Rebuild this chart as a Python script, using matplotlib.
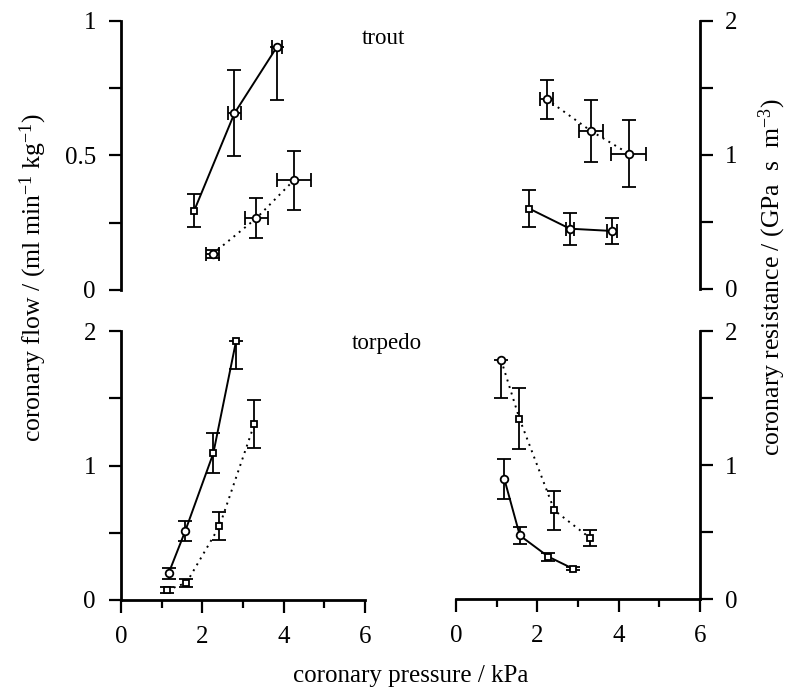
import matplotlib
matplotlib.use('Agg')
import matplotlib.pyplot as plt
from matplotlib.ticker import FixedLocator, FormatStrFormatter

plt.rcParams['font.family'] = 'Liberation Serif'
plt.rcParams['mathtext.fontset'] = 'custom'
plt.rcParams['mathtext.rm'] = 'Liberation Serif'
plt.rcParams['mathtext.it'] = 'Liberation Serif:italic'

# ---- trout, coronary flow (ml/min/kg) ----
tf_solid_x = [1.80, 2.79, 3.84]
tf_solid_y = [0.295, 0.657, 0.905]
tf_solid_ylo = [0.062, 0.16, 0.20]
tf_solid_yhi = [0.062, 0.16, 0.0]
tf_solid_xerr = [0.0, 0.16, 0.12]
tf_solid_mk = ['s', 'o', 'o']

tf_dot_x = [2.25, 3.33, 4.25]
tf_dot_y = [0.134, 0.267, 0.408]
tf_dot_ylo = [0.015, 0.075, 0.11]
tf_dot_yhi = [0.015, 0.075, 0.11]
tf_dot_xerr = [0.16, 0.29, 0.42]
tf_dot_mk = ['o', 'o', 'o']

# ---- trout, coronary resistance (GPa s m-3) ----
tr_solid_x = [1.80, 2.80, 3.84]
tr_solid_y = [0.60, 0.45, 0.433]
tr_solid_ylo = [0.136, 0.12, 0.10]
tr_solid_yhi = [0.136, 0.12, 0.10]
tr_solid_xerr = [0.0, 0.10, 0.12]
tr_solid_mk = ['s', 'o', 'o']

tr_dot_x = [2.23, 3.32, 4.25]
tr_dot_y = [1.416, 1.179, 1.01]
tr_dot_ylo = [0.145, 0.23, 0.25]
tr_dot_yhi = [0.145, 0.23, 0.25]
tr_dot_xerr = [0.155, 0.30, 0.43]
tr_dot_mk = ['o', 'o', 'o']

# ---- torpedo, coronary flow ----
pf_solid_x = [1.17, 1.58, 2.27, 2.83]
pf_solid_y = [0.198, 0.513, 1.091, 1.926]
pf_solid_ylo = [0.04, 0.075, 0.15, 0.21]
pf_solid_yhi = [0.04, 0.075, 0.15, 0.0]
pf_solid_mk = ['o', 'o', 's', 's']

pf_dot_x = [1.14, 1.61, 2.42, 3.28]
pf_dot_y = [0.074, 0.128, 0.548, 1.309]
pf_dot_ylo = [0.02, 0.03, 0.105, 0.178]
pf_dot_yhi = [0.02, 0.03, 0.105, 0.178]
pf_dot_mk = ['s', 's', 's', 's']

# ---- torpedo, coronary resistance ----
pr_solid_x = [1.19, 1.57, 2.27, 2.87]
pr_solid_y = [0.894, 0.474, 0.316, 0.227]
pr_solid_ylo = [0.15, 0.06, 0.03, 0.01]
pr_solid_yhi = [0.15, 0.06, 0.03, 0.01]
pr_solid_mk = ['o', 'o', 's', 's']

pr_dot_x = [1.11, 1.56, 2.42, 3.29]
pr_dot_y = [1.783, 1.346, 0.661, 0.457]
pr_dot_ylo = [0.28, 0.23, 0.145, 0.06]
pr_dot_yhi = [0.0, 0.23, 0.145, 0.06]
pr_dot_mk = ['o', 's', 's', 's']

x_ticks = [0, 2, 4, 6]
x_minor = [1, 3, 5]

FS = 18
DOTTED = (0, (1, 2.5))


def draw_series(ax, x, y, ylo, yhi, markers, ls, xerr=None):
    ax.plot(x, y, color='black', lw=1.4, ls=ls, zorder=2)
    ax.errorbar(x, y, yerr=[ylo, yhi], fmt='none', ecolor='black',
                elinewidth=1.3, capsize=5, capthick=1.3, zorder=3)
    if xerr is not None:
        idx = [i for i, e in enumerate(xerr) if e > 0]
        ax.errorbar([x[i] for i in idx], [y[i] for i in idx],
                    xerr=[xerr[i] for i in idx], fmt='none', ecolor='black',
                    elinewidth=1.3, capsize=5, capthick=1.3, zorder=3)
    for xi, yi, m in zip(x, y, markers):
        ax.plot(xi, yi, marker=m, ms=5.5 if m == 'o' else 5, mfc='white',
                mec='black', mew=1.3, ls='none', zorder=4)


def style_axis(ax, side, show_x, ymax, ymajor, yminor, yfmt):
    for s in ['top', 'left', 'right', 'bottom']:
        ax.spines[s].set_visible(False)
    ax.spines[side].set_visible(True)
    ax.spines[side].set_linewidth(2)
    ax.set_xlim(0, 6)
    ax.set_ylim(0, ymax)
    ax.yaxis.set_major_locator(FixedLocator(ymajor))
    ax.yaxis.set_minor_locator(FixedLocator(yminor))
    ax.yaxis.set_major_formatter(FormatStrFormatter(yfmt))
    ax.yaxis.set_ticks_position(side)
    ax.tick_params(axis='y', which='both', direction='out', length=9,
                   width=1.6, pad=9, labelsize=FS)
    if show_x:
        ax.spines['bottom'].set_visible(True)
        ax.spines['bottom'].set_linewidth(2)
        ax.xaxis.set_major_locator(FixedLocator(x_ticks))
        ax.xaxis.set_minor_locator(FixedLocator(x_minor))
        ax.tick_params(axis='x', which='major', direction='out', length=9,
                       width=1.6, pad=10, labelsize=FS)
        ax.tick_params(axis='x', which='minor', direction='out', length=6,
                       width=1.6)
    else:
        ax.set_xticks([])
    ax.patch.set_visible(False)


fig = plt.figure(figsize=(7.88, 6.97), dpi=100)
W, H = 788, 697


def px_axes(x0, y0, x1, y1):
    return fig.add_axes([x0 / W, 1 - y1 / H, (x1 - x0) / W, (y1 - y0) / H])


ax_tf = px_axes(121, 21, 365, 290)
ax_tr = px_axes(456, 21, 700, 289)
ax_pf = px_axes(121, 331, 365, 600)
ax_pr = px_axes(456, 331, 700, 599)

draw_series(ax_tf, tf_solid_x, tf_solid_y, tf_solid_ylo, tf_solid_yhi, tf_solid_mk, '-', tf_solid_xerr)
draw_series(ax_tf, tf_dot_x, tf_dot_y, tf_dot_ylo, tf_dot_yhi, tf_dot_mk, DOTTED, tf_dot_xerr)
draw_series(ax_tr, tr_solid_x, tr_solid_y, tr_solid_ylo, tr_solid_yhi, tr_solid_mk, '-', tr_solid_xerr)
draw_series(ax_tr, tr_dot_x, tr_dot_y, tr_dot_ylo, tr_dot_yhi, tr_dot_mk, DOTTED, tr_dot_xerr)
draw_series(ax_pf, pf_solid_x, pf_solid_y, pf_solid_ylo, pf_solid_yhi, pf_solid_mk, '-')
draw_series(ax_pf, pf_dot_x, pf_dot_y, pf_dot_ylo, pf_dot_yhi, pf_dot_mk, DOTTED)
draw_series(ax_pr, pr_solid_x, pr_solid_y, pr_solid_ylo, pr_solid_yhi, pr_solid_mk, '-')
draw_series(ax_pr, pr_dot_x, pr_dot_y, pr_dot_ylo, pr_dot_yhi, pr_dot_mk, DOTTED)

style_axis(ax_tf, 'left', False, 1, [0, 0.5, 1], [0.25, 0.75], '%g')
style_axis(ax_tr, 'right', False, 2, [0, 1, 2], [0.5, 1.5], '%g')
style_axis(ax_pf, 'left', True, 2, [0, 1, 2], [0.5, 1.5], '%g')
style_axis(ax_pr, 'right', True, 2, [0, 1, 2], [0.5, 1.5], '%g')

fig.text(383 / W, 1 - 38 / H, 'trout', fontsize=16.5, ha='center', va='center')
fig.text(387 / W, 1 - 343 / H, 'torpedo', fontsize=16.5, ha='center', va='center')

fig.text(33 / W, 1 - 278 / H, r'coronary flow / (ml min$^{-1}$ kg$^{-1}$)',
         fontsize=18.5, rotation=90, ha='center', va='center')
fig.text(772 / W, 1 - 277 / H,
         'coronary resistance / (GPa\u2002s\u2002m$^{-3}$)',
         fontsize=18.5, rotation=90, ha='center', va='center')
fig.text(411 / W, 1 - 676 / H, 'coronary pressure / kPa', fontsize=18,
         ha='center', va='center')

fig.savefig('out.png', dpi=100)
